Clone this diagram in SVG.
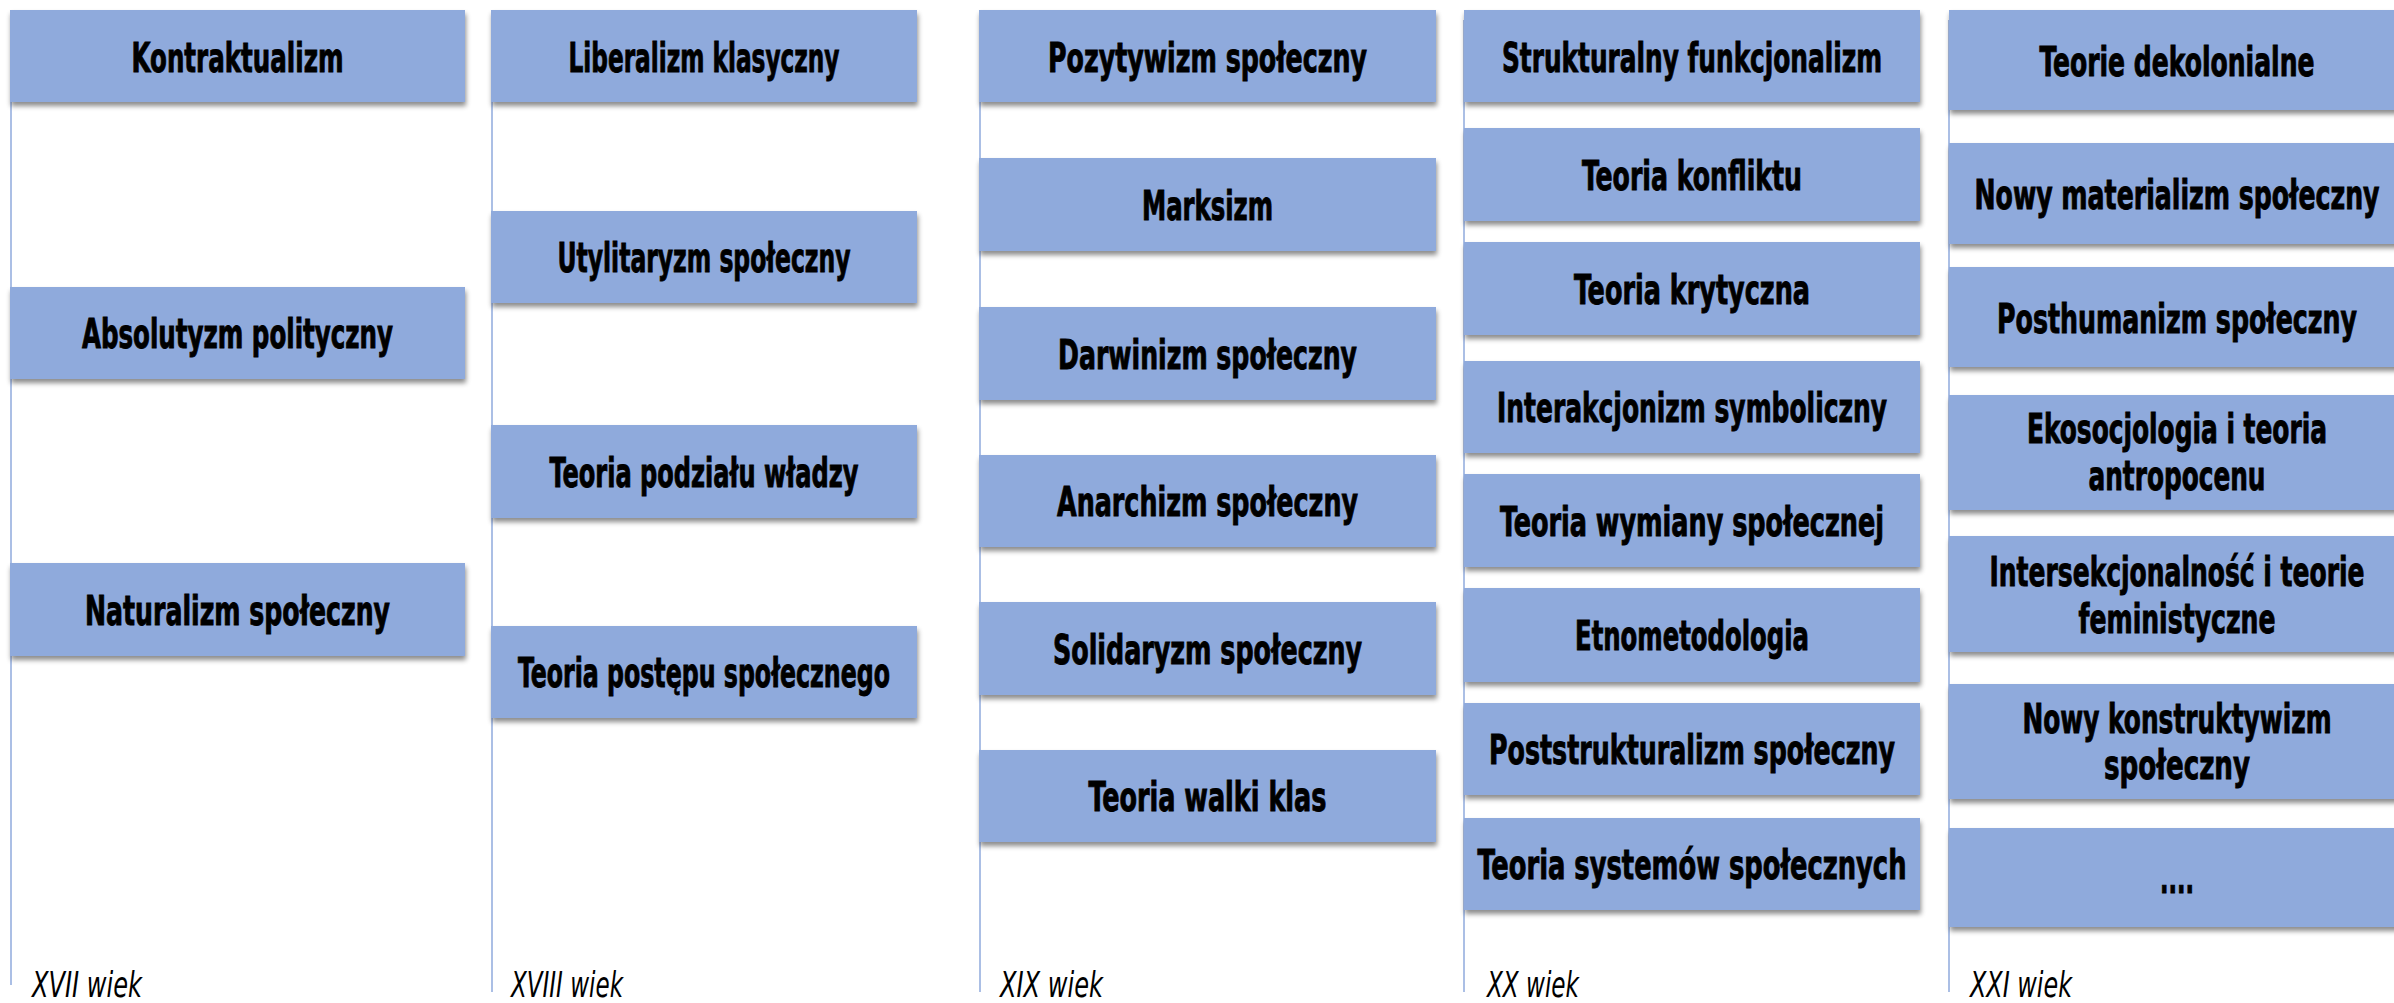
<svg xmlns="http://www.w3.org/2000/svg" width="2394" height="1003" viewBox="0 0 2394 1003">
<style>
.box{fill:#8FAADC;filter:url(#sh);}
.t{font-family:"Liberation Sans Narrow","DejaVu Sans Condensed","Roboto Condensed","Liberation Sans",sans-serif;font-weight:bold;font-size:40px;fill:#000;stroke:#000;stroke-width:0.9px;text-anchor:middle;}
.lab{font-family:"Liberation Sans Narrow","DejaVu Sans Condensed","Roboto Condensed","Liberation Sans",sans-serif;font-style:italic;font-size:36px;fill:#000;}
.ln{stroke:#8FAADC;stroke-width:1.5;fill:none;}
</style>
<defs>
<filter id="sh" x="-5%" y="-20%" width="110%" height="150%">
<feDropShadow dx="1" dy="4" stdDeviation="2.5" flood-color="#000" flood-opacity="0.45"/>
</filter>
</defs>
<rect width="2394" height="1003" fill="#fff"/>
<g id="connectors">
<line class="ln" x1="11" y1="20" x2="11" y2="985"/>
<line class="ln" x1="492" y1="20" x2="492" y2="992"/>
<line class="ln" x1="980" y1="20" x2="980" y2="992"/>
<line class="ln" x1="1464" y1="20" x2="1464" y2="992"/>
<line class="ln" x1="1949" y1="20" x2="1949" y2="992"/>
</g>
<g id="col1">
<g id="n-kontraktualizm"><rect class="box" x="10" y="10" width="455" height="92"/><text class="t" x="237.5" y="72" textLength="212" lengthAdjust="spacingAndGlyphs">Kontraktualizm</text></g>
<g id="n-absolutyzm"><rect class="box" x="10" y="287" width="455" height="92"/><text class="t" x="237.5" y="348" textLength="311" lengthAdjust="spacingAndGlyphs">Absolutyzm polityczny</text></g>
<g id="n-naturalizm"><rect class="box" x="10" y="563" width="455" height="93"/><text class="t" x="237.5" y="625" textLength="305" lengthAdjust="spacingAndGlyphs">Naturalizm społeczny</text></g>
<text class="lab" x="32" y="997" textLength="110" lengthAdjust="spacingAndGlyphs">XVII wiek</text>
</g>
<g id="col2">
<g id="n-liberalizm"><rect class="box" x="491" y="10" width="426" height="92"/><text class="t" x="704" y="72" textLength="271" lengthAdjust="spacingAndGlyphs">Liberalizm klasyczny</text></g>
<g id="n-utylitaryzm"><rect class="box" x="491" y="211" width="426" height="92"/><text class="t" x="704" y="272" textLength="293" lengthAdjust="spacingAndGlyphs">Utylitaryzm społeczny</text></g>
<g id="n-podzial"><rect class="box" x="491" y="425" width="426" height="93"/><text class="t" x="704" y="487" textLength="309" lengthAdjust="spacingAndGlyphs">Teoria podziału władzy</text></g>
<g id="n-postep"><rect class="box" x="491" y="626" width="426" height="92"/><text class="t" x="704" y="687" textLength="372" lengthAdjust="spacingAndGlyphs">Teoria postępu społecznego</text></g>
<text class="lab" x="511" y="997" textLength="112" lengthAdjust="spacingAndGlyphs">XVIII wiek</text>
</g>
<g id="col3">
<g id="n-pozytywizm"><rect class="box" x="979" y="10" width="457" height="92"/><text class="t" x="1207.5" y="72" textLength="319" lengthAdjust="spacingAndGlyphs">Pozytywizm społeczny</text></g>
<g id="n-marksizm"><rect class="box" x="979" y="158" width="457" height="93"/><text class="t" x="1207.5" y="220" textLength="131" lengthAdjust="spacingAndGlyphs">Marksizm</text></g>
<g id="n-darwinizm"><rect class="box" x="979" y="307" width="457" height="93"/><text class="t" x="1207.5" y="369" textLength="299" lengthAdjust="spacingAndGlyphs">Darwinizm społeczny</text></g>
<g id="n-anarchizm"><rect class="box" x="979" y="455" width="457" height="92"/><text class="t" x="1207.5" y="516" textLength="301" lengthAdjust="spacingAndGlyphs">Anarchizm społeczny</text></g>
<g id="n-solidaryzm"><rect class="box" x="979" y="602" width="457" height="93"/><text class="t" x="1207.5" y="664" textLength="309" lengthAdjust="spacingAndGlyphs">Solidaryzm społeczny</text></g>
<g id="n-walka"><rect class="box" x="979" y="750" width="457" height="92"/><text class="t" x="1207.5" y="811" textLength="238" lengthAdjust="spacingAndGlyphs">Teoria walki klas</text></g>
<text class="lab" x="1000" y="997" textLength="103" lengthAdjust="spacingAndGlyphs">XIX wiek</text>
</g>
<g id="col4">
<g id="n-funkcjonalizm"><rect class="box" x="1464" y="10" width="456" height="92"/><text class="t" x="1692" y="72" textLength="380" lengthAdjust="spacingAndGlyphs">Strukturalny funkcjonalizm</text></g>
<g id="n-konflikt"><rect class="box" x="1464" y="128" width="456" height="93"/><text class="t" x="1692" y="190" textLength="220" lengthAdjust="spacingAndGlyphs">Teoria konfliktu</text></g>
<g id="n-krytyczna"><rect class="box" x="1464" y="242" width="456" height="93"/><text class="t" x="1692" y="304" textLength="236" lengthAdjust="spacingAndGlyphs">Teoria krytyczna</text></g>
<g id="n-interakcjonizm"><rect class="box" x="1464" y="361" width="456" height="92"/><text class="t" x="1692" y="422" textLength="390" lengthAdjust="spacingAndGlyphs">Interakcjonizm symboliczny</text></g>
<g id="n-wymiana"><rect class="box" x="1464" y="474" width="456" height="93"/><text class="t" x="1692" y="536" textLength="384" lengthAdjust="spacingAndGlyphs">Teoria wymiany społecznej</text></g>
<g id="n-etnometodologia"><rect class="box" x="1464" y="588" width="456" height="94"/><text class="t" x="1692" y="650" textLength="234" lengthAdjust="spacingAndGlyphs">Etnometodologia</text></g>
<g id="n-poststrukturalizm"><rect class="box" x="1464" y="703" width="456" height="92"/><text class="t" x="1692" y="764" textLength="406" lengthAdjust="spacingAndGlyphs">Poststrukturalizm społeczny</text></g>
<g id="n-systemy"><rect class="box" x="1464" y="818" width="456" height="92"/><text class="t" x="1692" y="879" textLength="429" lengthAdjust="spacingAndGlyphs">Teoria systemów społecznych</text></g>
<text class="lab" x="1487" y="997" textLength="92" lengthAdjust="spacingAndGlyphs">XX wiek</text>
</g>
<g id="col5">
<g id="n-dekolonialne"><rect class="box" x="1949" y="10" width="456" height="100"/><text class="t" x="2177" y="76" textLength="275" lengthAdjust="spacingAndGlyphs">Teorie dekolonialne</text></g>
<g id="n-materializm"><rect class="box" x="1949" y="143" width="456" height="101"/><text class="t" x="2177" y="209" textLength="405" lengthAdjust="spacingAndGlyphs">Nowy materializm społeczny</text></g>
<g id="n-posthumanizm"><rect class="box" x="1949" y="267" width="456" height="100"/><text class="t" x="2177" y="333" textLength="360" lengthAdjust="spacingAndGlyphs">Posthumanizm społeczny</text></g>
<g id="n-ekosocjologia"><rect class="box" x="1949" y="395" width="456" height="115"/><text class="t" x="2177" y="443" textLength="300" lengthAdjust="spacingAndGlyphs">Ekosocjologia i teoria</text><text class="t" x="2177" y="490" textLength="177" lengthAdjust="spacingAndGlyphs">antropocenu</text></g>
<g id="n-intersekcjonalnosc"><rect class="box" x="1949" y="536" width="456" height="116"/><text class="t" x="2177" y="586" textLength="375" lengthAdjust="spacingAndGlyphs">Intersekcjonalność i teorie</text><text class="t" x="2177" y="633" textLength="197" lengthAdjust="spacingAndGlyphs">feministyczne</text></g>
<g id="n-konstruktywizm"><rect class="box" x="1949" y="684" width="456" height="115"/><text class="t" x="2177" y="733" textLength="309" lengthAdjust="spacingAndGlyphs">Nowy konstruktywizm</text><text class="t" x="2177" y="779" textLength="146" lengthAdjust="spacingAndGlyphs">społeczny</text></g>
<g id="n-etc"><rect class="box" x="1949" y="828" width="456" height="99"/><text class="t" x="2177" y="893" textLength="34" lengthAdjust="spacingAndGlyphs">....</text></g>
<text class="lab" x="1970" y="997" textLength="102" lengthAdjust="spacingAndGlyphs">XXI wiek</text>
</g>
</svg>
